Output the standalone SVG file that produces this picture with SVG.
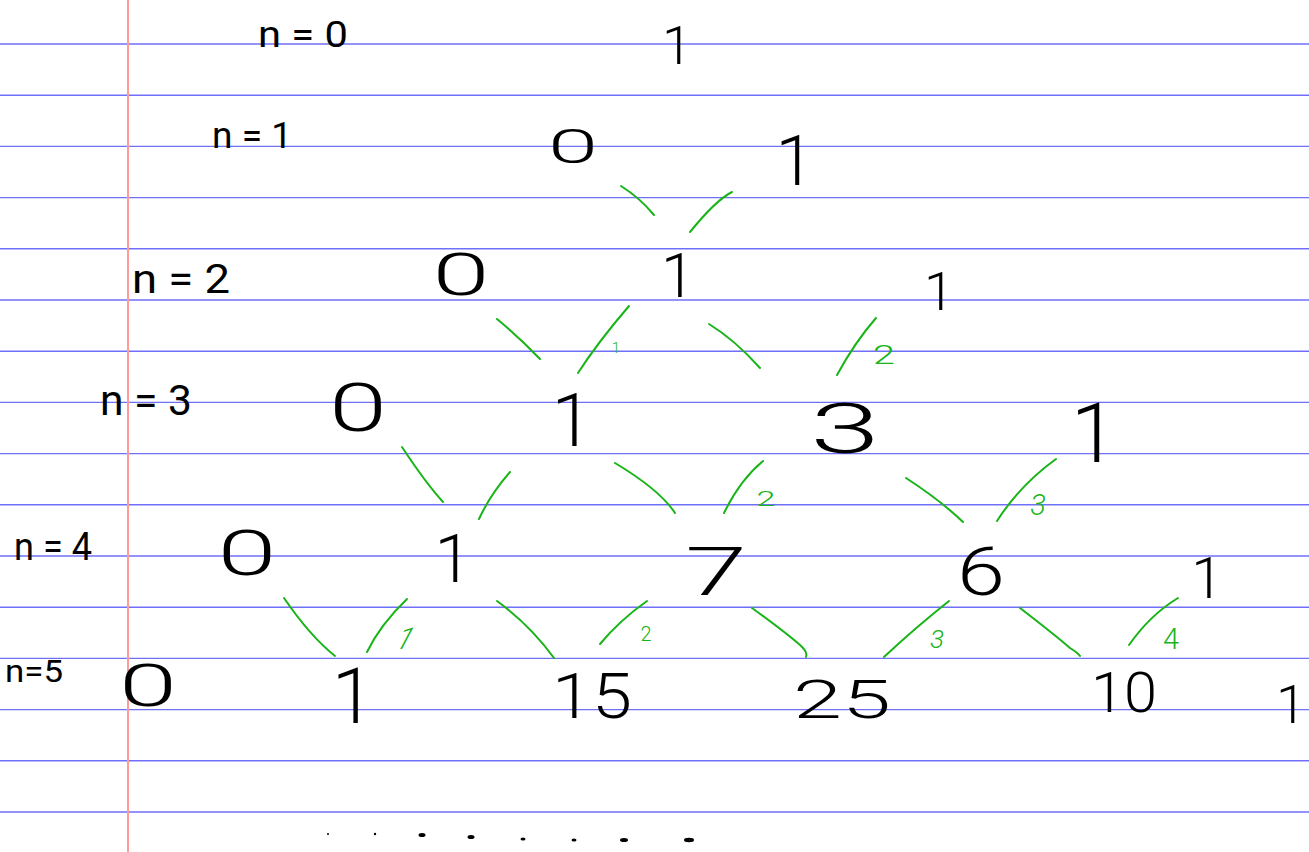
<svg xmlns="http://www.w3.org/2000/svg" width="1309" height="852" viewBox="0 0 1309 852">
<style>
.rule{stroke:#6f6ff7;stroke-width:1.4}
.margin{stroke:#ff9a9a;stroke-width:2}
.num{font-family:Roboto,"Liberation Sans",Arial,sans-serif;font-weight:300;fill:#000;text-anchor:middle}
.lbl{font-family:Roboto,"Liberation Sans",Arial,sans-serif;font-weight:400;fill:#000}
.conn path{fill:none;stroke:#18b418;stroke-width:2;stroke-linecap:round}
.glbl{font-family:Roboto,"Liberation Sans",Arial,sans-serif;font-weight:300;fill:#18b418;text-anchor:middle}
</style>
<rect width="1309" height="852" fill="#fff"/>
<g id="paper">
<line class="rule" x1="0" y1="44" x2="1309" y2="44"/>
<line class="rule" x1="0" y1="95.2" x2="1309" y2="95.2"/>
<line class="rule" x1="0" y1="146.4" x2="1309" y2="146.4"/>
<line class="rule" x1="0" y1="197.6" x2="1309" y2="197.6"/>
<line class="rule" x1="0" y1="248.8" x2="1309" y2="248.8"/>
<line class="rule" x1="0" y1="300" x2="1309" y2="300"/>
<line class="rule" x1="0" y1="351.2" x2="1309" y2="351.2"/>
<line class="rule" x1="0" y1="402.4" x2="1309" y2="402.4"/>
<line class="rule" x1="0" y1="453.6" x2="1309" y2="453.6"/>
<line class="rule" x1="0" y1="504.8" x2="1309" y2="504.8"/>
<line class="rule" x1="0" y1="556" x2="1309" y2="556"/>
<line class="rule" x1="0" y1="607.2" x2="1309" y2="607.2"/>
<line class="rule" x1="0" y1="658.4" x2="1309" y2="658.4"/>
<line class="rule" x1="0" y1="709.6" x2="1309" y2="709.6"/>
<line class="rule" x1="0" y1="760.8" x2="1309" y2="760.8"/>
<line class="rule" x1="0" y1="812" x2="1309" y2="812"/>
<line class="margin" x1="128" y1="0" x2="128" y2="852"/>
</g>
<g id="row-labels">
<text class="lbl" x="258" y="47" font-size="36" textLength="90" lengthAdjust="spacingAndGlyphs">n = 0</text>
<text class="lbl" x="212" y="148" font-size="36" textLength="80" lengthAdjust="spacingAndGlyphs">n = 1</text>
<text class="lbl" x="132" y="293" font-size="40" textLength="98" lengthAdjust="spacingAndGlyphs">n = 2</text>
<text class="lbl" x="100" y="415" font-size="42" textLength="92" lengthAdjust="spacingAndGlyphs">n = 3</text>
<text class="lbl" x="14" y="560" font-size="38" textLength="78" lengthAdjust="spacingAndGlyphs">n = 4</text>
<text class="lbl" x="5" y="682" font-size="32" textLength="58" lengthAdjust="spacingAndGlyphs">n=5</text>
</g>
<g id="r0c0"><text class="num" x="677" y="64" font-size="54">1</text></g>
<g id="r1c0"><text class="num" x="573" y="163" font-size="49" textLength="50" lengthAdjust="spacingAndGlyphs">0</text></g>
<g id="r1c1"><text class="num" x="795" y="185" font-size="70">1</text></g>
<g id="r2c0"><text class="num" x="461" y="295" font-size="59" textLength="57" lengthAdjust="spacingAndGlyphs">0</text></g>
<g id="r2c1"><text class="num" x="678" y="297" font-size="61">1</text></g>
<g id="r2c2"><text class="num" x="939" y="310" font-size="54">1</text></g>
<g id="r3c0"><text class="num" x="358" y="431" font-size="67" textLength="58" lengthAdjust="spacingAndGlyphs">0</text></g>
<g id="r3c1"><text class="num" x="572" y="446" font-size="74">1</text></g>
<g id="r3c2"><text class="num" x="845" y="453" font-size="70" textLength="70" lengthAdjust="spacingAndGlyphs">3</text></g>
<g id="r3c3"><text class="num" x="1094" y="462" font-size="84">1</text></g>
<g id="r4c0"><text class="num" x="247" y="575" font-size="63" textLength="59" lengthAdjust="spacingAndGlyphs">0</text></g>
<g id="r4c1"><text class="num" x="453" y="582" font-size="67">1</text></g>
<g id="r4c2"><text class="num" x="716" y="595" font-size="66" textLength="62" lengthAdjust="spacingAndGlyphs">7</text></g>
<g id="r4c3"><text class="num" x="981" y="595" font-size="66" textLength="48" lengthAdjust="spacingAndGlyphs">6</text></g>
<g id="r4c4"><text class="num" x="1207" y="598" font-size="57">1</text></g>
<g id="r5c0"><text class="num" x="148" y="706" font-size="60" textLength="58" lengthAdjust="spacingAndGlyphs">0</text></g>
<g id="r5c1"><text class="num" x="353" y="723" font-size="77">1</text></g>
<g id="r5c2"><text class="num" x="592" y="718" font-size="63" textLength="80" lengthAdjust="spacingAndGlyphs">15</text></g>
<g id="r5c3"><text class="num" x="842" y="718" font-size="53" textLength="98" lengthAdjust="spacingAndGlyphs">25</text></g>
<g id="r5c4"><text class="num" x="1124" y="712" font-size="56" textLength="66" lengthAdjust="spacingAndGlyphs">10</text></g>
<g id="r5c5"><text class="num" x="1291" y="723" font-size="54">1</text></g>
<g id="connectors" class="conn">
<path d="M621,186 Q640,198 654,215"/>
<path d="M732,192 Q716,200 690,232"/>
<path d="M497,319 Q520,338 540,359"/>
<path d="M629,306 Q598,342 578,373"/>
<path d="M709,324 Q735,340 760,368"/>
<path d="M876,318 Q855,342 837,375"/>
<path d="M402,447 Q425,482 443,502"/>
<path d="M510,472 Q490,495 479,519"/>
<path d="M615,463 Q660,490 675,513"/>
<path d="M763,461 Q740,480 724,513"/>
<path d="M906,478 Q940,500 963,522"/>
<path d="M1056,459 Q1020,485 997,521"/>
<path d="M284,598 Q310,636 335,656"/>
<path d="M407,599 Q380,625 367,652"/>
<path d="M497,601 Q530,625 554,658"/>
<path d="M647,601 Q620,620 600,644"/>
<path d="M752,608 Q785,632 800,645 Q808,652 806,657"/>
<path d="M949,601 Q915,628 884,657"/>
<path d="M1020,608 Q1055,635 1070,648 Q1078,653 1080,656"/>
<path d="M1178,598 Q1150,615 1129,645"/>
</g>
<g id="connector-labels">
<text class="glbl" x="616" y="353" font-size="15">1</text>
<text class="glbl" x="884" y="364" font-size="25" textLength="22" lengthAdjust="spacingAndGlyphs">2</text>
<text class="glbl" x="766" y="506" font-size="21" textLength="19" lengthAdjust="spacingAndGlyphs">2</text>
<text class="glbl" x="1038" y="515" font-size="29" font-style="italic">3</text>
<text class="glbl" x="0" y="0" font-size="30" transform="translate(400,649) skewX(-28)">1</text>
<text class="glbl" x="646" y="641" font-size="20">2</text>
<text class="glbl" x="937" y="648" font-size="26" font-style="italic">3</text>
<text class="glbl" x="1171" y="649" font-size="29">4</text>
</g>
<g id="dots" fill="#000">
<circle cx="328" cy="834" r="1"/>
<circle cx="375" cy="834" r="1.2"/>
<ellipse cx="422" cy="835" rx="3.5" ry="2"/>
<ellipse cx="471" cy="837" rx="3.5" ry="2"/>
<ellipse cx="523" cy="839" rx="2.5" ry="1.5"/>
<ellipse cx="574" cy="840" rx="2.5" ry="1.5"/>
<ellipse cx="624" cy="840" rx="4" ry="2"/>
<ellipse cx="689" cy="840" rx="5" ry="2.2"/>
</g>
</svg>
